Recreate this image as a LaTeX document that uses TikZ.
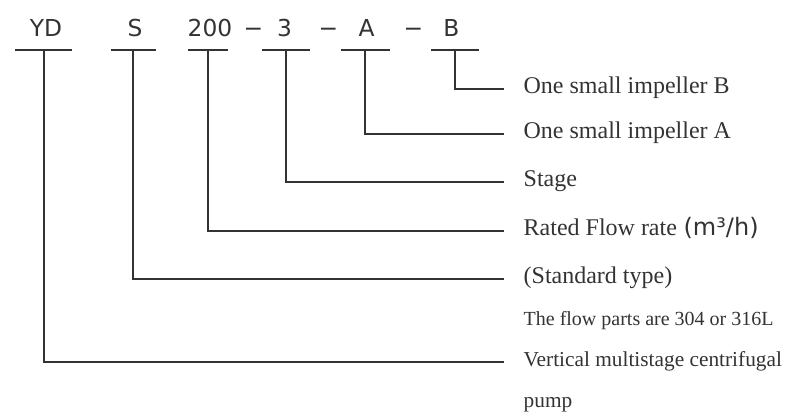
\documentclass[tikz,border=0pt]{standalone}
\usepackage{fontspec}
\setmainfont{Liberation Serif}
\newfontfamily\codefont{DejaVu Sans}
\usetikzlibrary{positioning}
\definecolor{inkgray}{HTML}{333333}

\begin{document}
\begin{tikzpicture}[x=0.75pt,y=-0.75pt,line width=1.5pt,
        code/.style={text=inkgray,inner sep=0pt,text height=0.73em,text depth=0pt,
          font=\codefont\fontsize{17.5}{20}\selectfont},
        lbl/.style={anchor=west,text=inkgray,inner xsep=14pt,inner ysep=0pt,
          text height=0.7em,text depth=0pt,font=\fontsize{18}{22}\selectfont},
        small lbl/.style={lbl,font=\fontsize{16}{19}\selectfont},
        bar/.style={draw=inkgray}]
        \useasboundingbox (0,0) rectangle (790,414);

        % model code
        \node[code] (yd) at (46,32) {YD};
        \node[code] (s) at (135,32) {S};
        \node[code] (q) at (210,32) {200};
        \node[code] (n) at (284.5,32) {3};
        \node[code] (a) at (366.5,32) {A};
        \node[code] (b) at (451.5,32) {B};
        \node[code] (d1) at (253.5,32) {−};
        \node[code] (d2) at (328.5,32) {−};
        \node[code] (d3) at (413.5,32) {−};

        % underline bars
        \foreach \c/\cx/\w in {yd/43.5/28.5, s/133/22.5, q/208/20, n/286/24, a/365/24.5, b/455/24}
          {
            \coordinate (\c-bar) at (\cx,50);
            \draw[bar] (\cx-\w,50) -- (\cx+\w,50);
          }

        % meanings
        \node[lbl] (lb) at (504,89) {One small impeller B};
        \node[lbl] (la) at (504,134) {One small impeller A};
        \node[lbl] (ln) at (504,182) {Stage};
        \node[lbl] (lq) at (504,231) {Rated Flow rate\hspace{5pt}{\codefont\fontsize{18}{20}\selectfont(m³/h)}};
        \node[lbl] (ls) at (504,279) {(Standard type)};
        \node[small lbl,font=\fontsize{15}{18}\selectfont] (lmat) at (504,321) {The flow parts are 304 or 316L};
        \node[small lbl] (lyd) at (504,362) {Vertical multistage centrifugal};
        \node[small lbl] (lpump) at (504,403) {pump};

        \path[bar]
        (b-bar) edge[to path={|- (\tikztotarget)}] (lb.west)
        (a-bar) edge[to path={|- (\tikztotarget)}] (la.west)
        (n-bar) edge[to path={|- (\tikztotarget)}] (ln.west)
        (q-bar) edge[to path={|- (\tikztotarget)}] (lq.west)
        (s-bar) edge[to path={|- (\tikztotarget)}] (ls.west)
        (yd-bar) edge[to path={|- (\tikztotarget)}] (lyd.west);
\end{tikzpicture}
\end{document}
